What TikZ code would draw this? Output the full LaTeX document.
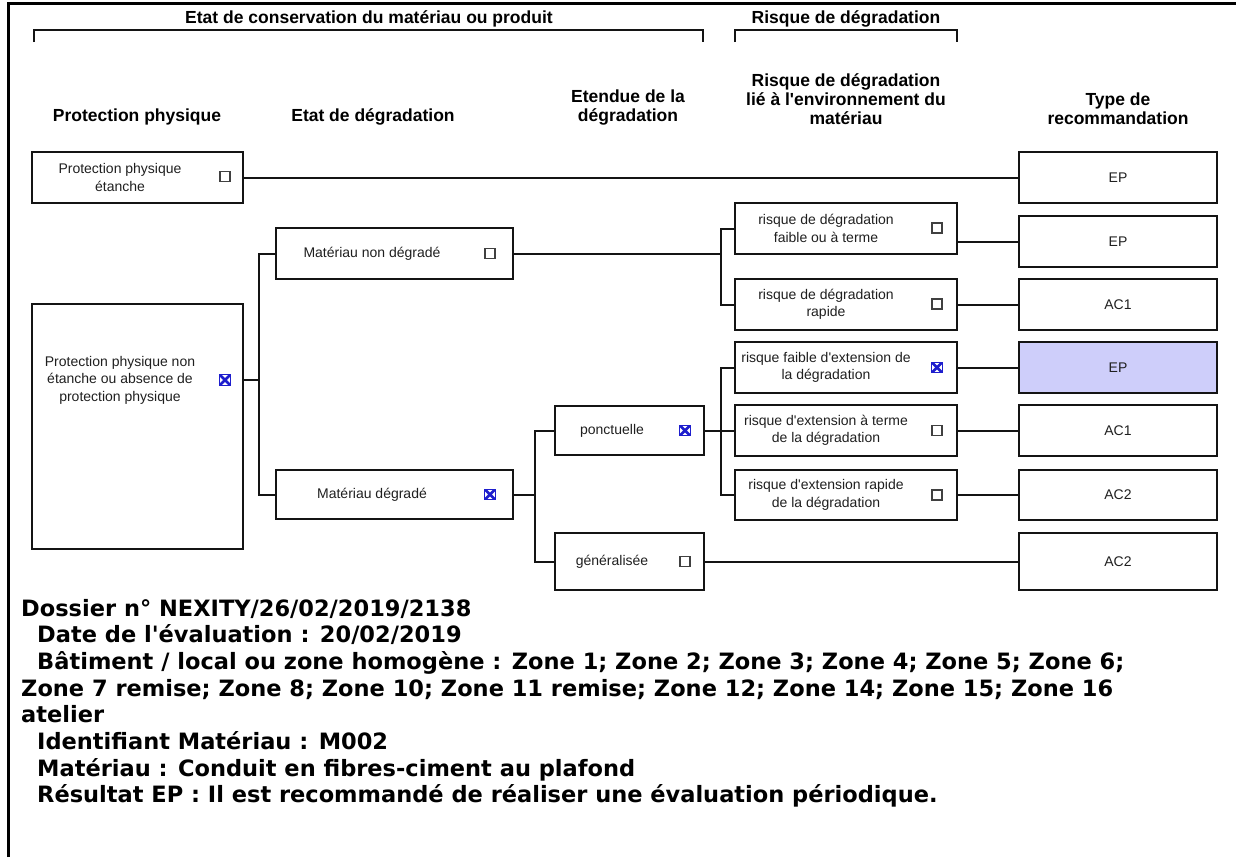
\documentclass[tikz,border=0pt]{standalone}
\usepackage{fontspec}
\newfontfamily\arialf{Liberation Sans}
\newfontfamily\verd{DejaVu Sans}
\definecolor{hl}{RGB}{206,206,250}
\definecolor{xblue}{RGB}{30,30,205}
\definecolor{ln}{RGB}{20,20,20}
\begin{document}
\begin{tikzpicture}[x=1pt,y=-1pt,
  box/.style={draw=ln, line width=2.2pt, inner sep=0pt},
  conn/.style={draw=ln, line width=2pt},
  lbl/.style={font=\arialf\fontsize{14}{17.5}\selectfont, align=center, inner sep=0pt, text=black!88},
  hdr/.style={font=\arialf\fontsize{17.5}{19}\selectfont\bfseries, align=center, inner sep=0pt},
  chk/.style={draw=black!75, line width=1.4pt, minimum size=10pt, inner sep=0pt},
  xmk/.style={draw=xblue, line width=0.8pt, minimum size=10.5pt, inner sep=0pt,
    path picture={\draw[xblue,line width=2.6pt]
      (path picture bounding box.north west)--(path picture bounding box.south east)
      (path picture bounding box.north east)--(path picture bounding box.south west);}},
  info/.style={font=\verd\fontsize{22.5}{26.7}\selectfont\bfseries, anchor=base west, inner sep=0pt},
  brk/.style={draw=ln, line width=2pt}
]
\useasboundingbox (0,0) rectangle (1236,857);
% frame
\draw[line width=3pt] (8,857) -- (8,3) -- (1236,3);

% group titles
\node[hdr] (g1) at (369,19) {Etat de conservation du matériau ou produit};
\node[hdr] (g2) at (846,19) {Risque de dégradation};
\coordinate (b1l) at (34,30); \coordinate (b1r) at (703,30);
\coordinate (b2l) at (735,30); \coordinate (b2r) at (957,30);
\draw[brk] ([yshift=-12pt]b1l) -- (b1l) -- (b1r) -- ([yshift=-12pt]b1r);
\draw[brk] ([yshift=-12pt]b2l) -- (b2l) -- (b2r) -- ([yshift=-12pt]b2r);

% column headers
\node[hdr, anchor=south] (h1) at (137,125) {Protection physique};
\node[hdr, anchor=south] (h2) at (373,125) {Etat de dégradation};
\node[hdr, anchor=south] (h3) at (628,125) {Etendue de la\\dégradation};
\node[hdr, anchor=south] (h4) at (846,125) {Risque de dégradation\\lié à l'environnement du\\matériau};
\node[hdr, anchor=south] (h5) at (1118,125) {Type de\\recommandation};

% column 1
\node[box, minimum width=211pt, minimum height=51pt] (ppe) at (137.5,177.5) {};
\node[box, minimum width=211pt, minimum height=245pt] (ppne) at (137.5,426.5) {};
% column 2
\node[box, minimum width=237pt, minimum height=51pt] (mnd) at (394.5,253.5) {};
\node[box, minimum width=237pt, minimum height=49pt] (md) at (394.5,494.5) {};
% column 3
\node[box, minimum width=149pt, minimum height=49pt] (ponct) at (629.5,430.5) {};
\node[box, minimum width=149pt, minimum height=57pt] (gen) at (629.5,561.5) {};
% column 4
\node[box, minimum width=222pt, minimum height=51pt] (r1) at (846,228.5) {};
\node[box, minimum width=222pt, minimum height=51pt] (r2) at (846,304.5) {};
\node[box, minimum width=222pt, minimum height=51pt] (r3) at (846,367.5) {};
\node[box, minimum width=222pt, minimum height=51pt] (r4) at (846,430.5) {};
\node[box, minimum width=222pt, minimum height=50pt] (r5) at (846,495) {};
% column 5
\node[box, minimum width=198pt, minimum height=51pt] (ep1) at (1118,177.5) {};
\node[box, minimum width=198pt, minimum height=51pt] (ep2) at (1118,241.5) {};
\node[box, minimum width=198pt, minimum height=51pt] (ac1) at (1118,304.5) {};
\node[box, minimum width=198pt, minimum height=51pt, fill=hl] (eph) at (1118,367.5) {};
\node[box, minimum width=198pt, minimum height=51pt] (ac1b) at (1118,430.5) {};
\node[box, minimum width=198pt, minimum height=50pt] (ac2) at (1118,495) {};
\node[box, minimum width=198pt, minimum height=57pt] (ac2b) at (1118,561.5) {};

% labels
\node[lbl] (tppe) at (120,177.5) {Protection physique\\étanche};
\node[lbl] (tppne) at (120,380) {Protection physique non\\étanche ou absence de\\protection physique};
\node[lbl] (tmnd) at (372,253.5) {Matériau non dégradé};
\node[lbl] (tmd) at (372,494.5) {Matériau dégradé};
\node[lbl] (tponct) at (612,430.5) {ponctuelle};
\node[lbl] (tgen) at (612,561.5) {généralisée};
\node[lbl] (tr1) at (826,228.5) {risque de dégradation\\faible ou à terme};
\node[lbl] (tr2) at (826,304.5) {risque de dégradation\\rapide};
\node[lbl] (tr3) at (826,367.5) {risque faible d'extension de\\la dégradation};
\node[lbl] (tr4) at (826,430.5) {risque d'extension à terme\\de la dégradation};
\node[lbl] (tr5) at (826,495) {risque d'extension rapide\\de la dégradation};
\node[lbl] (tep1) at (ep1) {EP};
\node[lbl] (tep2) at (ep2) {EP};
\node[lbl] (tac1) at (ac1) {AC1};
\node[lbl] (teph) at (eph) {EP};
\node[lbl] (tac1b) at (ac1b) {AC1};
\node[lbl] (tac2) at (ac2) {AC2};
\node[lbl] (tac2b) at (ac2b) {AC2};

% check boxes
\node[chk] (cppe) at (225,176.5) {};
\node[xmk] (cppne) at (225,380) {};
\node[chk] (cmnd) at (490,253.5) {};
\node[xmk] (cmd) at (490,494.5) {};
\node[xmk] (cponct) at (685,430.5) {};
\node[chk] (cgen) at (685,561.5) {};
\node[chk] (cr1) at (937,228) {};
\node[chk] (cr2) at (937,304) {};
\node[xmk] (cr3) at (937,367.5) {};
\node[chk] (cr4) at (937,430.5) {};
\node[chk] (cr5) at (937,495) {};

% connectors
\coordinate (j1) at (259,380);
\coordinate (j2) at (720.5,253.5);
\coordinate (j3) at (535,494.5);
\coordinate (j4) at (720.5,430.5);
\draw[conn] (ppe.east) -- (ep1.west);
\draw[conn] (ppne.east |- j1) -- (j1);
\draw[conn] (mnd.west) -| (j1) |- (md.west);
\draw[conn] (mnd.east) -- (j2);
\draw[conn] (r1.west) -| (j2) |- (r2.west);
\draw[conn] (md.east) -- (j3);
\draw[conn] (ponct.west) -| (j3) |- (gen.west);
\draw[conn] (ponct.east) -- (r4.west);
\draw[conn] (r3.west) -| (j4) |- (r5.west);
\draw[conn] (gen.east) -- (ac2b.west);
\draw[conn] (r1.east |- ep2.west) -- (ep2.west);
\draw[conn] (r2.east) -- (ac1.west);
\draw[conn] (r3.east) -- (eph.west);
\draw[conn] (r4.east) -- (ac1b.west);
\draw[conn] (r5.east) -- (ac2.west);

% information text
\node[info] (i1) at (21,616) {Dossier n° NEXITY/26/02/2019/2138};
\node[info] (i2) at (37,642.7) {Date de l'évaluation : 20/02/2019};
\node[info] (i3) at (37,669.4) {Bâtiment / local ou zone homogène : Zone 1; Zone 2; Zone 3; Zone 4; Zone 5; Zone 6;};
\node[info] (i4) at (21,696.1) {Zone 7 remise; Zone 8; Zone 10; Zone 11 remise; Zone 12; Zone 14; Zone 15; Zone 16};
\node[info] (i5) at (21,722.8) {atelier};
\node[info] (i6) at (37,749.5) {Identifiant Matériau : M002};
\node[info] (i7) at (37,776.2) {Matériau : Conduit en fibres-ciment au plafond};
\node[info] (i8) at (37,802.9) {Résultat EP : Il est recommandé de réaliser une évaluation périodique.};
\end{tikzpicture}
\end{document}
